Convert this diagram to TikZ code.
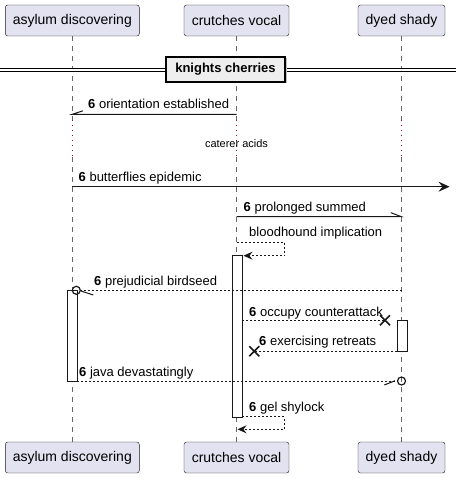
\documentclass[tikz,border=0pt]{standalone}
\usepackage{fontspec}
\setmainfont{Liberation Sans}
\usetikzlibrary{arrows.meta}
\definecolor{partfill}{HTML}{E2E2F0}
\definecolor{partline}{HTML}{181818}
\definecolor{delaycol}{HTML}{8B0A50}
\definecolor{divfill}{HTML}{EEEEEE}
\begin{document}
\begin{tikzpicture}[x=1pt,y=-1pt,
  part/.style={draw=partline,fill=partfill,rounded corners=2.5pt,minimum height=31,
    inner sep=0pt,font=\fontsize{14}{16}\selectfont},
  life/.style={draw=black!60,line width=0.8,dash pattern=on 5 off 5},
  delay/.style={draw=delaycol,line width=0.9,dash pattern=on 1 off 4},
  act/.style={draw=partline,fill=white,line width=1},
  msg/.style={anchor=base west,inner sep=0pt,font=\fontsize{13}{15}\selectfont},
  sync/.style={draw=partline,line width=1},
  reply/.style={draw=partline,line width=1,dash pattern=on 2 off 2},
  head/.style={-{Stealth[length=9,width=8,inset=3]}},
  cross/.style={draw=partline,line width=1.6}]
\useasboundingbox (0,0) rectangle (456,478);

% participants, top and bottom
\node[part,minimum width=134] (asylumT) at (72.3,20.5) {asylum discovering};
\node[part,minimum width=105] (crutchesT) at (236.5,20.5) {crutches vocal};
\node[part,minimum width=87] (dyedT) at (401.5,20.5) {dyed shady};
\node[part,minimum width=134] (asylumB) at (72.3,457.5) {asylum discovering};
\node[part,minimum width=105] (crutchesB) at (236.5,457.5) {crutches vocal};
\node[part,minimum width=87] (dyedB) at (401.5,457.5) {dyed shady};

% lifelines with the delay part
\foreach \p in {asylum,crutches,dyed} {
  \draw[life] (\p T.south) -- (\p T.south |- 0,120);
  \draw[delay] (\p T.south |- 0,120) -- (\p T.south |- 0,157);
  \draw[life] (\p T.south |- 0,157) -- (\p B.north);
}

% divider
\draw[double=white,double distance=2.4,line width=1.1] (0,70) -- (166,70);
\draw[double=white,double distance=2.4,line width=1.1] (285,70) -- (456,70);
\fill[black!25] (167.5,58.5) rectangle (286.5,83.5);
\node[draw,fill=divfill,line width=1.5,minimum width=119,minimum height=25,inner sep=0pt,
  font=\bfseries\fontsize{13}{15}\selectfont] (knights) at (225.5,69.5) {knights cherries};

% activations
\draw[act] (232.3,255.7) rectangle (242.3,417);
\draw[act] (67.7,290.3) rectangle (77.3,381);
\draw[act] (397.3,320.3) rectangle (407.3,351.3);

% 1
\draw[sync] (crutchesT |- 0,114.3) -- (asylumT |- 0,114.3) -- ++(10.7,-3.5);
\node[msg] (m1) at (88,108.5) {\textbf{6} orientation established};

% delay text
\node[anchor=base,inner sep=0pt,font=\fontsize{11}{13}\selectfont] (caterer) at (236.5,147.3) {caterer acids};

% 2
\coordinate (edge) at (449.5,186.7);
\draw[sync,-{Stealth[length=11,width=10,inset=4]}] (asylumT |- 0,186.7) -- (edge);
\node[msg] (m2) at (78.5,181.5) {\textbf{6} butterflies epidemic};

% 3
\draw[sync] (crutchesT |- 0,216.7) -- (dyedT |- 0,216.7) -- ++(-10.7,-4);
\node[msg] (m3) at (243.5,211.7) {\textbf{6} prolonged summed};

% 4
\draw[reply,head] (crutchesT |- 0,242.3) -- (284.3,242.3) -- (284.3,255.7) -- (243.5,255.7);
\node[msg] (m4) at (249,236.7) {bloodhound implication};

% 5
\draw[reply] (dyedT |- 0,290.3) -- (80.3,290.3);
\draw[sync,line width=1.2] (76.3,290.3) circle (4);
\draw[sync] (81,291) -- (93.3,295);
\node[msg] (m5) at (94,285.7) {\textbf{6} prejudicial birdseed};

% 6
\draw[reply] (242.3,320.3) -- (385,320.3);
\draw[cross] (380,315.3) -- (390,325.3) (380,325.3) -- (390,315.3);
\node[msg] (m6) at (249,316) {\textbf{6} occupy counterattack};

% 7
\draw[reply] (397.3,351.3) -- (254.3,351.3);
\draw[cross] (249.3,346.3) -- (259.3,356.3) (249.3,356.3) -- (259.3,346.3);
\node[msg] (m7) at (259,345.7) {\textbf{6} exercising retreats};

% 8
\draw[reply] (77.3,381) -- (397.3,381);
\draw[sync,line width=1.2] (dyedT |- 0,381) circle (4);
\draw[sync] (384.3,385) -- (395,380.7);
\node[msg] (m8) at (79,376) {\textbf{6} java devastatingly};

% 9
\draw[reply,head] (242.3,416.7) -- (284.3,416.7) -- (284.3,429.3) -- (237.5,429.3);
\node[msg] (m9) at (249,411.7) {\textbf{6} gel shylock};
\end{tikzpicture}
\end{document}
